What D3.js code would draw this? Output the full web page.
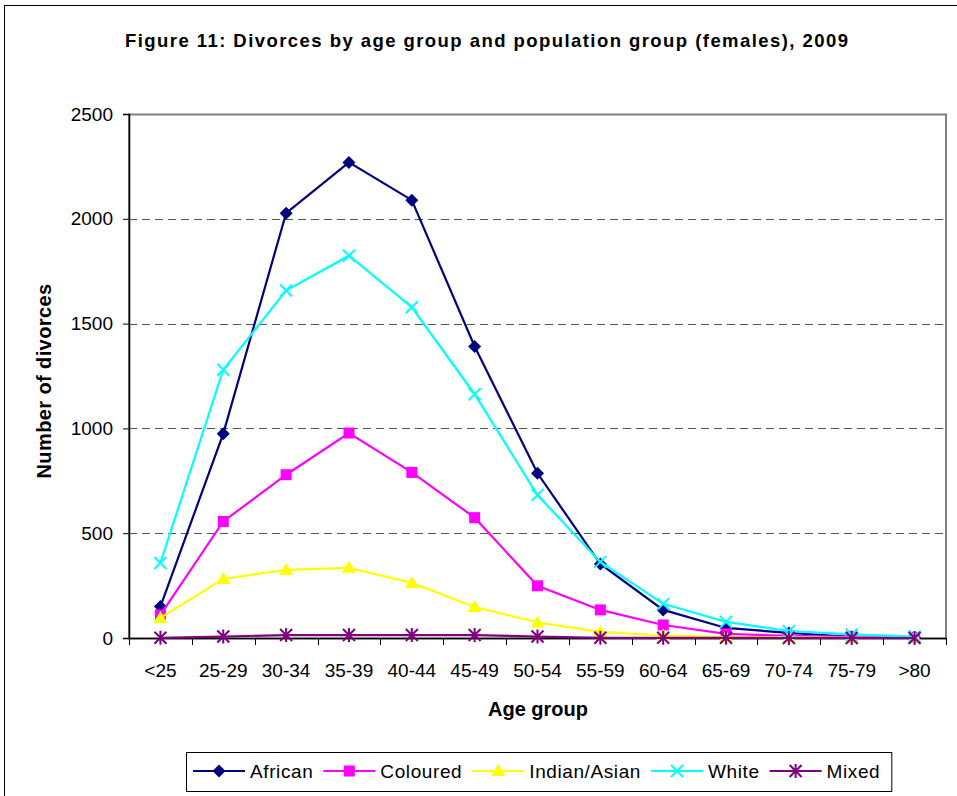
<!DOCTYPE html>
<html>
<head>
<meta charset="utf-8">
<script src="https://cdn.jsdelivr.net/npm/d3@7/dist/d3.min.js"></script>
<style>
  body { margin: 0; background: #fff; }
  svg { display: block; font-family: "Liberation Sans", Arial, sans-serif; }
</style>
</head>
<body>
<div id="chart"></div>
<script>
// data
var ageGroups = ["<25", "25-29", "30-34", "35-39", "40-44", "45-49", "50-54", "55-59", "60-64", "65-69", "70-74", "75-79", ">80"];
var african  = [150, 975, 2027, 2269, 2089, 1391, 786, 353, 134, 48, 24, 6, 2];
var coloured = [110, 556, 779, 978, 790, 574, 249, 134, 62, 20, 10, 5, 3];
var indian   = [96, 282, 325, 335, 263, 148, 74, 29, 12, 5, 3, 1, 1];
var white    = [358, 1280, 1658, 1824, 1578, 1163, 682, 363, 163, 77, 33, 17, 7];
var mixed    = [1, 7, 14, 14, 14, 14, 7, 1, 1, 1, 0, 0, 0];
var yTicks   = [0, 500, 1000, 1500, 2000, 2500];

var series = [
  { name: "African", values: african, color: "#000080", marker: "diamond" },
  { name: "Coloured", values: coloured, color: "#ff00ff", marker: "square" },
  { name: "Indian/Asian", values: indian, color: "#ffff00", marker: "triangle" },
  { name: "White", values: white, color: "#00ffff", marker: "x" },
  { name: "Mixed", values: mixed, color: "#800080", marker: "star" }
];

var W = 957, H = 796;
var plot = { left: 129, right: 946, top: 114, bottom: 638 };

var svg = d3.select("#chart").append("svg").attr("width", W).attr("height", H);

// outer chart border (runs off the right and bottom edges)
svg.append("rect")
  .attr("x", 4.5).attr("y", 5.5).attr("width", 1000).attr("height", 1000)
  .attr("fill", "#fff").attr("stroke", "#000").attr("stroke-width", 1);

svg.append("text")
  .attr("x", 125).attr("y", 47)
  .attr("font-size", 18.5).attr("font-weight", "bold")
  .attr("textLength", 723).attr("lengthAdjust", "spacing")
  .text("Figure 11: Divorces by age group and population group (females), 2009");

var x = d3.scaleBand().domain(ageGroups).range([plot.left, plot.right]);
var y = d3.scaleLinear().domain([0, 2500]).range([plot.bottom, plot.top]);
function cx(i) { return x(ageGroups[i]) + x.bandwidth() / 2; }

// plot frame
svg.append("rect")
  .attr("x", plot.left).attr("y", plot.top + 0.5)
  .attr("width", plot.right - plot.left).attr("height", plot.bottom - plot.top)
  .attr("fill", "none").attr("stroke", "#808080").attr("stroke-width", 2);

// gridlines
svg.append("g").selectAll("line")
  .data(yTicks.filter(function (d) { return d > 0 && d < 2500; }))
  .enter().append("line")
  .attr("x1", plot.left).attr("x2", plot.right)
  .attr("y1", function (d) { return Math.round(y(d)) + 0.5; })
  .attr("y2", function (d) { return Math.round(y(d)) + 0.5; })
  .attr("stroke", "#555").attr("stroke-dasharray", "8,5");

// y axis
var yAxis = svg.append("g")
  .attr("transform", "translate(" + plot.left + ",0)")
  .call(d3.axisLeft(y).tickValues(yTicks).tickSize(6).tickPadding(10).tickFormat(d3.format("d")));
yAxis.select(".domain").attr("stroke", "#000").attr("stroke-width", 1.5);
yAxis.selectAll(".tick line").attr("stroke", "#000");
yAxis.selectAll("text").attr("font-size", 19).attr("fill", "#000")
  .attr("font-family", "Liberation Sans, Arial, sans-serif");

// x axis with ticks between the categories
var xAxis = svg.append("g")
  .attr("transform", "translate(0," + plot.bottom + ")");
xAxis.append("line")
  .attr("x1", plot.left).attr("x2", plot.right).attr("y1", 0.5).attr("y2", 0.5)
  .attr("stroke", "#000").attr("stroke-width", 1.5);
xAxis.selectAll(".bt")
  .data(ageGroups.concat(["end"]))
  .enter().append("line")
  .attr("class", "bt")
  .attr("x1", function (d, i) { return Math.round(plot.left + i * x.bandwidth()) + 0.5; })
  .attr("x2", function (d, i) { return Math.round(plot.left + i * x.bandwidth()) + 0.5; })
  .attr("y1", 0).attr("y2", 7)
  .attr("stroke", "#000");
xAxis.selectAll(".lbl")
  .data(ageGroups)
  .enter().append("text")
  .attr("class", "lbl")
  .attr("x", function (d, i) { return cx(i); })
  .attr("y", 39)
  .attr("text-anchor", "middle")
  .attr("font-size", 19)
  .text(function (d) { return d; });

svg.append("text")
  .attr("x", 538).attr("y", 716)
  .attr("text-anchor", "middle")
  .attr("font-size", 20).attr("font-weight", "bold")
  .text("Age group");

svg.append("text")
  .attr("transform", "translate(51,381) rotate(-90)")
  .attr("text-anchor", "middle")
  .attr("font-size", 20).attr("font-weight", "bold")
  .attr("letter-spacing", 0.4)
  .text("Number of divorces");

// marker drawing
function drawMarker(g, type, color) {
  if (type === "diamond") {
    g.append("path").attr("d", "M0,-6.5L6.5,0L0,6.5L-6.5,0Z").attr("fill", color);
  } else if (type === "square") {
    g.append("rect").attr("x", -5.5).attr("y", -5.5).attr("width", 11).attr("height", 11).attr("fill", color);
  } else if (type === "triangle") {
    g.append("path").attr("d", "M0,-7L7,5L-7,5Z").attr("fill", color);
  } else if (type === "x") {
    g.append("path").attr("d", "M-6,-6L6,6M-6,6L6,-6").attr("stroke", color).attr("stroke-width", 2);
  } else if (type === "star") {
    g.append("path").attr("d", "M-6,-6L6,6M-6,6L6,-6M0,-7L0,7").attr("stroke", color).attr("stroke-width", 2);
  }
}

var line = d3.line()
  .x(function (d, i) { return cx(i); })
  .y(function (d) { return y(d); });

series.forEach(function (s) {
  var g = svg.append("g");
  g.append("path")
    .datum(s.values)
    .attr("d", line)
    .attr("fill", "none")
    .attr("stroke", s.color)
    .attr("stroke-width", 2.2);
  s.values.forEach(function (v, i) {
    var m = g.append("g").attr("transform", "translate(" + cx(i) + "," + y(v) + ")");
    drawMarker(m, s.marker, s.color);
  });
});

// legend
var legend = svg.append("g");
var box = legend.append("rect")
  .attr("x", 186.5).attr("y", 752.5).attr("height", 39)
  .attr("fill", "#fff").attr("stroke", "#000");
var lx = 193, ly = 771;
series.forEach(function (s) {
  legend.append("line")
    .attr("x1", lx).attr("x2", lx + 52).attr("y1", ly).attr("y2", ly)
    .attr("stroke", s.color).attr("stroke-width", 2.2);
  drawMarker(legend.append("g").attr("transform", "translate(" + (lx + 26) + "," + ly + ")"), s.marker, s.color);
  var t = legend.append("text")
    .attr("x", lx + 57).attr("y", ly + 7)
    .attr("font-size", 19).attr("letter-spacing", 0.6)
    .text(s.name);
  lx = lx + 57 + t.node().getComputedTextLength() + 10;
});
box.attr("width", lx - 186 + 1);
</script>
</body>
</html>
